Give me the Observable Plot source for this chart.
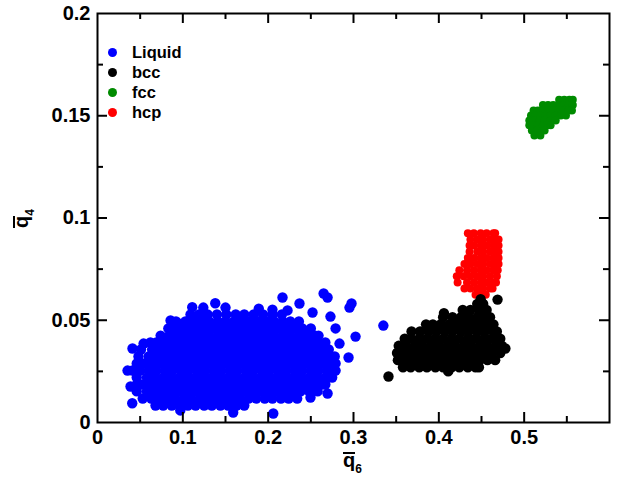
<!DOCTYPE html>
<html>
<head>
<meta charset="utf-8">
<script src="https://cdn.jsdelivr.net/npm/d3@7"></script>
<script src="https://cdn.jsdelivr.net/npm/@observablehq/plot@0.6"></script>
<style>
  body { margin: 0; background: #fff; }
  #wrap { position: relative; width: 628px; height: 479px; font-family: "Liberation Sans", Arial, sans-serif; font-weight: bold; color: #000; }
  #wrap svg { position: absolute; left: 0; top: 0; }
  .ttl { position: absolute; left: 0; top: 0; font-size: 20px; line-height: 20px; white-space: nowrap; }
  .ov { position: relative; display: inline-block; }
  .ov::before { content: ""; position: absolute; left: 0; right: 0; top: 2px; border-top: 2px solid #000; }
  .ttl sub { font-size: 12px; vertical-align: -6px; line-height: 0; }
  .leg { position: absolute; left: 108px; height: 20px; display: flex; align-items: center; font-size: 16.5px; white-space: nowrap; }
  .leg .sw { width: 9px; height: 9px; border-radius: 50%; display: inline-block; margin-right: 15px; }
</style>
</head>
<body>
<div id="wrap"></div>
<script>
// ---- data ----
const seriesNames = ["Liquid", "bcc", "fcc", "hcp"];
const seriesColors = ["#0000ff", "#000000", "#008b00", "#ff0000"];

// each row: [q4, [q6 values...]]
const liquidRows = [
  [0.0083, [0.068, 0.077, 0.087, 0.096, 0.106, 0.115, 0.125, 0.134, 0.144, 0.153, 0.163, 0.172]],
  [0.0117, [0.053, 0.063, 0.072, 0.082, 0.091, 0.101, 0.110, 0.120, 0.129, 0.139, 0.148, 0.158, 0.167, 0.177, 0.186, 0.196, 0.205, 0.215, 0.224, 0.234]],
  [0.0152, [0.046, 0.058, 0.067, 0.077, 0.086, 0.096, 0.105, 0.115, 0.124, 0.134, 0.143, 0.153, 0.162, 0.172, 0.181, 0.191, 0.200, 0.210, 0.219, 0.229, 0.238, 0.248, 0.258]],
  [0.0186, [0.046, 0.053, 0.063, 0.072, 0.082, 0.091, 0.101, 0.110, 0.120, 0.129, 0.139, 0.148, 0.158, 0.167, 0.177, 0.186, 0.196, 0.205, 0.215, 0.224, 0.234, 0.243, 0.253, 0.262, 0.267]],
  [0.0220, [0.046, 0.058, 0.067, 0.077, 0.086, 0.096, 0.105, 0.115, 0.124, 0.134, 0.143, 0.153, 0.162, 0.172, 0.181, 0.191, 0.200, 0.210, 0.219, 0.229, 0.238, 0.248, 0.257, 0.267, 0.275]],
  [0.0254, [0.041, 0.050, 0.060, 0.069, 0.079, 0.088, 0.098, 0.107, 0.117, 0.126, 0.136, 0.145, 0.155, 0.164, 0.174, 0.183, 0.193, 0.202, 0.212, 0.221, 0.231, 0.240, 0.250, 0.259, 0.269, 0.279]],
  [0.0289, [0.046, 0.055, 0.064, 0.074, 0.084, 0.093, 0.103, 0.112, 0.122, 0.131, 0.141, 0.150, 0.160, 0.169, 0.179, 0.188, 0.198, 0.207, 0.217, 0.226, 0.236, 0.245, 0.255, 0.264, 0.274, 0.279]],
  [0.0323, [0.048, 0.060, 0.069, 0.079, 0.088, 0.098, 0.107, 0.117, 0.126, 0.136, 0.145, 0.155, 0.164, 0.174, 0.183, 0.193, 0.202, 0.212, 0.221, 0.231, 0.240, 0.250, 0.259, 0.269, 0.278]],
  [0.0357, [0.051, 0.064, 0.074, 0.084, 0.093, 0.103, 0.112, 0.122, 0.131, 0.141, 0.150, 0.160, 0.169, 0.179, 0.188, 0.198, 0.207, 0.217, 0.226, 0.236, 0.245, 0.255, 0.264, 0.271]],
  [0.0391, [0.062, 0.069, 0.079, 0.088, 0.098, 0.107, 0.117, 0.126, 0.136, 0.145, 0.155, 0.164, 0.174, 0.183, 0.193, 0.202, 0.212, 0.221, 0.231, 0.240, 0.250, 0.259, 0.267]],
  [0.0425, [0.074, 0.084, 0.093, 0.103, 0.112, 0.122, 0.131, 0.141, 0.150, 0.160, 0.169, 0.179, 0.188, 0.198, 0.207, 0.217, 0.226, 0.236, 0.245, 0.255, 0.259]],
  [0.0460, [0.083, 0.088, 0.098, 0.107, 0.117, 0.126, 0.136, 0.145, 0.155, 0.164, 0.174, 0.183, 0.193, 0.202, 0.212, 0.221, 0.231, 0.240, 0.250]],
  [0.0494, [0.092, 0.103, 0.112, 0.122, 0.131, 0.141, 0.150, 0.160, 0.169, 0.179, 0.188, 0.198, 0.207, 0.217, 0.226, 0.236]],
  [0.0528, [0.109, 0.119, 0.129, 0.140, 0.151, 0.162, 0.172, 0.183, 0.194, 0.205, 0.216]]
];
// scattered liquid points: [q6, q4]
const liquidExtra = [
  [0.2168, 0.0611], [0.265, 0.0631], [0.2696, 0.0611], [0.2977, 0.0582], [0.2953, 0.0562],
  [0.2367, 0.0582], [0.111, 0.0564], [0.124, 0.0562], [0.138, 0.0583], [0.150, 0.0562],
  [0.189, 0.0557], [0.205, 0.0552], [0.2227, 0.0548], [0.252, 0.0538], [0.273, 0.0518],
  [0.0856, 0.0499], [0.095, 0.0484], [0.054, 0.0386], [0.041, 0.0362], [0.0352, 0.0254],
  [0.0387, 0.0176], [0.0407, 0.0094], [0.3024, 0.042], [0.2836, 0.0386], [0.2942, 0.0318],
  [0.279, 0.046], [0.2696, 0.0142], [0.2496, 0.0122], [0.206, 0.0044], [0.159, 0.0049],
  [0.097, 0.0059], [0.335, 0.0474]
];

const bccRows = [
  [0.0270, [0.358, 0.367, 0.377, 0.386, 0.396, 0.405, 0.415, 0.424, 0.434, 0.443, 0.447]],
  [0.0305, [0.352, 0.362, 0.372, 0.381, 0.391, 0.400, 0.410, 0.419, 0.429, 0.438, 0.448, 0.457, 0.466]],
  [0.0340, [0.351, 0.358, 0.367, 0.377, 0.386, 0.396, 0.405, 0.415, 0.424, 0.434, 0.443, 0.453, 0.462, 0.472]],
  [0.0375, [0.353, 0.362, 0.372, 0.381, 0.391, 0.400, 0.410, 0.419, 0.429, 0.438, 0.448, 0.457, 0.467, 0.474]],
  [0.0410, [0.360, 0.367, 0.377, 0.386, 0.396, 0.405, 0.415, 0.424, 0.434, 0.443, 0.453, 0.462, 0.472]],
  [0.0445, [0.368, 0.378, 0.388, 0.397, 0.407, 0.416, 0.426, 0.435, 0.445, 0.454, 0.464, 0.468]],
  [0.0480, [0.385, 0.393, 0.402, 0.412, 0.421, 0.431, 0.440, 0.450, 0.459, 0.464]],
  [0.0515, [0.405, 0.416, 0.426, 0.435, 0.445, 0.454, 0.460]],
  [0.0550, [0.428, 0.437, 0.447, 0.456]],
  [0.0580, [0.445, 0.452]]
];
const bccExtra = [
  [0.449, 0.0603], [0.4688, 0.0601], [0.406, 0.0535], [0.341, 0.0225], [0.411, 0.0250], [0.478, 0.0362]
];

const fccRows = [
  [0.1578, [0.541, 0.547, 0.553, 0.557]],
  [0.1552, [0.522, 0.528, 0.534, 0.540, 0.546, 0.552, 0.557]],
  [0.1526, [0.511, 0.516, 0.522, 0.528, 0.534, 0.540, 0.546, 0.552, 0.556]],
  [0.1501, [0.508, 0.513, 0.519, 0.525, 0.531, 0.537, 0.543, 0.549]],
  [0.1477, [0.506, 0.512, 0.518, 0.524, 0.531, 0.537]],
  [0.1453, [0.506, 0.510, 0.516, 0.522, 0.527, 0.531]],
  [0.1428, [0.509, 0.515, 0.521, 0.524]],
  [0.1403, [0.512, 0.519]]
];

const hcpRows = [
  [0.0925, [0.434, 0.441, 0.449, 0.456, 0.464, 0.466]],
  [0.0895, [0.437, 0.445, 0.452, 0.460, 0.467, 0.470]],
  [0.0865, [0.436, 0.441, 0.449, 0.456, 0.464, 0.470]],
  [0.0835, [0.436, 0.445, 0.452, 0.460, 0.467, 0.470]],
  [0.0805, [0.434, 0.441, 0.449, 0.456, 0.464, 0.470]],
  [0.0775, [0.430, 0.437, 0.445, 0.452, 0.460, 0.467, 0.470]],
  [0.0745, [0.424, 0.433, 0.441, 0.449, 0.456, 0.464, 0.469]],
  [0.0715, [0.421, 0.429, 0.437, 0.445, 0.452, 0.460, 0.468]],
  [0.0685, [0.422, 0.433, 0.441, 0.449, 0.456, 0.464, 0.467]],
  [0.0655, [0.430, 0.437, 0.445, 0.452, 0.460, 0.463]],
  [0.0625, [0.443, 0.449, 0.455]]
];

const xTicks = [0, 0.1, 0.2, 0.3, 0.4, 0.5];
const xMinorTicks = [0.05, 0.15, 0.25, 0.35, 0.45, 0.55];
const yTicks = [0, 0.05, 0.1, 0.15, 0.2];
const yMinorTicks = [0.025, 0.075, 0.125, 0.175];

// ---- build tables ----
function fromRows(rows, extra, name) {
  const out = [];
  for (const [y, xs] of rows) for (const x of xs) out.push({q6: x, q4: y, phase: name});
  for (const [x, y] of (extra || [])) out.push({q6: x, q4: y, phase: name});
  return out;
}
const liquid = fromRows(liquidRows, liquidExtra, "Liquid");
const bcc = fromRows(bccRows, bccExtra, "bcc");
const fcc = fromRows(fccRows, [], "fcc");
const hcp = fromRows(hcpRows, [], "hcp");

const W = 628, H = 479, mL = 97, mR = 19, mT = 13, mB = 57;
const innerW = W - mL - mR, innerH = H - mT - mB;
const major = 10, minor = 6;

const chart = Plot.plot({
  width: W, height: H,
  marginLeft: mL, marginRight: mR, marginTop: mT, marginBottom: mB,
  x: {domain: [0, 0.6]},
  y: {domain: [0, 0.2]},
  style: {fontFamily: "'Liberation Sans', Arial, sans-serif", fontWeight: "bold", fontSize: "20px", background: "#fff", color: "#000", overflow: "visible"},
  marks: [
    Plot.dot(liquid, {x: "q6", y: "q4", r: 5.2, fill: seriesColors[0], stroke: null}),
    Plot.dot(hcp, {x: "q6", y: "q4", r: 4, fill: seriesColors[3], stroke: null}),
    Plot.dot(bcc, {x: "q6", y: "q4", r: 5.2, fill: seriesColors[1], stroke: null}),
    Plot.dot(fcc, {x: "q6", y: "q4", r: 4, fill: seriesColors[2], stroke: null}),
    // inward ticks on all four sides
    Plot.ruleX(xTicks.filter(d => d > 0), {insetTop: innerH - major, stroke: "#000", strokeWidth: 2}),
    Plot.ruleX(xTicks.filter(d => d > 0), {insetBottom: innerH - major, stroke: "#000", strokeWidth: 2}),
    Plot.ruleX(xMinorTicks, {insetTop: innerH - minor, stroke: "#000", strokeWidth: 2}),
    Plot.ruleX(xMinorTicks, {insetBottom: innerH - minor, stroke: "#000", strokeWidth: 2}),
    Plot.ruleY(yTicks.filter(d => d > 0 && d < 0.2), {insetRight: innerW - major, stroke: "#000", strokeWidth: 2}),
    Plot.ruleY(yTicks.filter(d => d > 0 && d < 0.2), {insetLeft: innerW - major, stroke: "#000", strokeWidth: 2}),
    Plot.ruleY(yMinorTicks, {insetRight: innerW - minor, stroke: "#000", strokeWidth: 2}),
    Plot.ruleY(yMinorTicks, {insetLeft: innerW - minor, stroke: "#000", strokeWidth: 2}),
    Plot.frame({stroke: "#000", strokeWidth: 2}),
    Plot.axisX(xTicks, {tickSize: 0, tickPadding: 7, label: null, tickFormat: d => String(d), fill: "#000"}),
    Plot.axisY(yTicks, {tickSize: 0, tickPadding: 7, label: null, tickFormat: d => String(d), fill: "#000"})
  ]
});

const wrap = document.getElementById("wrap");
wrap.appendChild(chart);

// axis titles
const xt = document.createElement("div");
xt.className = "ttl";
xt.innerHTML = '<span class="ov">q</span><sub>6</sub>';
xt.style.transform = "translate(343px, 450px)";
wrap.appendChild(xt);

const yt = document.createElement("div");
yt.className = "ttl";
yt.innerHTML = '<span class="ov">q</span><sub>4</sub>';
yt.style.transformOrigin = "0 0";
yt.style.transform = "translate(11px, 228px) rotate(-90deg)";
wrap.appendChild(yt);

// legend
seriesNames.forEach((name, i) => {
  const row = document.createElement("div");
  row.className = "leg";
  row.style.top = (42 + 20 * i) + "px";
  row.innerHTML = `<span class="sw" style="background:${seriesColors[i]}"></span><span>${name}</span>`;
  wrap.appendChild(row);
});
</script>
</body>
</html>
